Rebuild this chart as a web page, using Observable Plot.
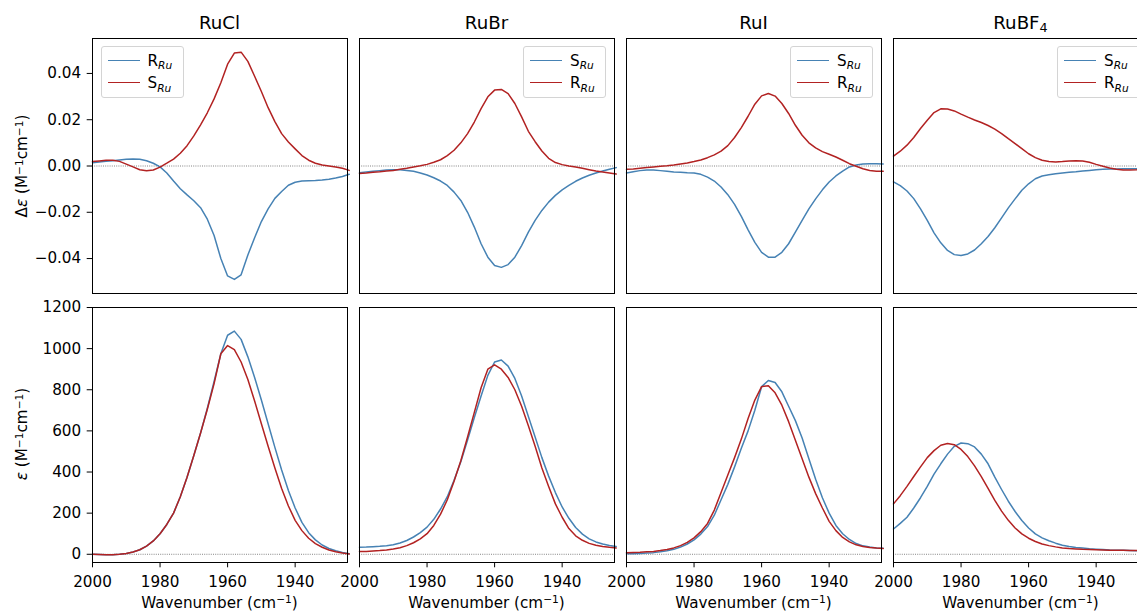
<!DOCTYPE html>
<html><head><meta charset="utf-8">
<script src="https://cdn.jsdelivr.net/npm/d3@7"></script>
<script src="https://cdn.jsdelivr.net/npm/@observablehq/plot@0.6"></script>
<style>
body{margin:0;background:#fff;font-family:"DejaVu Sans",sans-serif;}
#fig{position:relative;width:1137px;height:611px;overflow:hidden;background:#fff;color:#000;}
#fig svg{position:absolute;overflow:visible;}
.t{position:absolute;white-space:nowrap;line-height:1;}
.title{font-size:18.2px;transform:translateX(-50%);}
.xl{font-size:15.2px;transform:translateX(-50%);}
.yl{font-size:15.2px;transform:translate(-50%,-50%) rotate(-90deg);}
sup{font-size:70%;vertical-align:0.45em;line-height:0;}
.title sub{font-size:70%;vertical-align:-0.25em;line-height:0;}
.leg{position:absolute;border:1px solid #d4d4d4;border-radius:3px;background:rgba(255,255,255,0.8);box-sizing:border-box;width:83px;height:52px;}
.leg .row{position:absolute;left:0;height:20px;font-size:15.2px;}
.leg .sw{position:absolute;left:6px;top:9px;width:32px;height:0;border-top:1.5px solid;}
.leg .lb{position:absolute;left:46px;top:1px;white-space:nowrap;}
.leg .lb i{font-size:70%;position:relative;top:0.3em;}
</style>
</head><body><div id="fig"></div>
<script>
// wavenumber grid (cm^-1)
const wavenumber = [2000,1998,1996,1994,1992,1990,1988,1986,1984,1982,1980,1978,1976,1974,1972,1970,1968,1966,1964,1962,1960,1958,1956,1954,1952,1950,1948,1946,1944,1942,1940,1938,1936,1934,1932,1930,1928,1926,1924];
const complexes = ["RuCl","RuBr","RuI","RuBF4"];
const titlesHtml = ["RuCl","RuBr","RuI","RuBF<sub>4</sub>"];
const blueLabels = ["R","S","S","S"];
const redLabels = ["S","R","R","R"];

// Δε (M^-1 cm^-1)
const dEps_RuCl_blue = [0.0014,0.0017,0.0020,0.0023,0.0026,0.0029,0.0030,0.0029,0.0023,0.0012,-0.0004,-0.0030,-0.0065,-0.0098,-0.0125,-0.0150,-0.0180,-0.0230,-0.0300,-0.0400,-0.0475,-0.0490,-0.0470,-0.0385,-0.0310,-0.0240,-0.0185,-0.0140,-0.0110,-0.0083,-0.0070,-0.0065,-0.0064,-0.0063,-0.0061,-0.0057,-0.0052,-0.0045,-0.0036];
const dEps_RuCl_red = [0.0019,0.0022,0.0025,0.0025,0.0020,0.0008,-0.0004,-0.0016,-0.0021,-0.0017,-0.0005,0.0012,0.0030,0.0055,0.0088,0.0130,0.0178,0.0230,0.0290,0.0360,0.0440,0.0488,0.0492,0.0452,0.0388,0.0322,0.0252,0.0192,0.0140,0.0104,0.0074,0.0045,0.0025,0.0012,0.0004,0.0000,-0.0004,-0.0010,-0.0019];
const dEps_RuBr_blue = [-0.0029,-0.0026,-0.0023,-0.0020,-0.0017,-0.0016,-0.0016,-0.0019,-0.0023,-0.0030,-0.0039,-0.0051,-0.0065,-0.0084,-0.0113,-0.0149,-0.0200,-0.0264,-0.0336,-0.0394,-0.0430,-0.0438,-0.0426,-0.0394,-0.0344,-0.0286,-0.0235,-0.0192,-0.0156,-0.0127,-0.0103,-0.0084,-0.0066,-0.0052,-0.0040,-0.0030,-0.0022,-0.0014,-0.0007];
const dEps_RuBr_red = [-0.0032,-0.0030,-0.0027,-0.0025,-0.0022,-0.0019,-0.0014,-0.0010,-0.0004,0.0001,0.0007,0.0016,0.0027,0.0045,0.0068,0.0100,0.0140,0.0190,0.0248,0.0299,0.0328,0.0331,0.0313,0.0270,0.0212,0.0150,0.0105,0.0065,0.0033,0.0015,0.0006,0.0000,-0.0004,-0.0010,-0.0016,-0.0022,-0.0026,-0.0030,-0.0035];
const dEps_RuI_blue = [-0.0030,-0.0025,-0.0020,-0.0017,-0.0017,-0.0020,-0.0023,-0.0026,-0.0027,-0.0029,-0.0030,-0.0036,-0.0048,-0.0065,-0.0091,-0.0124,-0.0166,-0.0218,-0.0276,-0.0330,-0.0373,-0.0394,-0.0394,-0.0373,-0.0336,-0.0286,-0.0235,-0.0185,-0.0142,-0.0103,-0.0069,-0.0043,-0.0022,-0.0004,0.0004,0.0009,0.0010,0.0010,0.0009];
const dEps_RuI_red = [-0.0014,-0.0013,-0.0010,-0.0007,-0.0004,-0.0001,0.0001,0.0004,0.0009,0.0013,0.0019,0.0026,0.0036,0.0048,0.0064,0.0088,0.0123,0.0166,0.0215,0.0267,0.0303,0.0313,0.0302,0.0270,0.0227,0.0176,0.0133,0.0100,0.0078,0.0062,0.0051,0.0039,0.0025,0.0010,-0.0001,-0.0012,-0.0019,-0.0023,-0.0023];
const dEps_RuBF4_blue = [-0.0069,-0.0085,-0.0108,-0.0141,-0.0185,-0.0235,-0.0289,-0.0332,-0.0365,-0.0383,-0.0387,-0.0380,-0.0363,-0.0336,-0.0305,-0.0267,-0.0224,-0.0181,-0.0142,-0.0105,-0.0077,-0.0055,-0.0043,-0.0038,-0.0033,-0.0030,-0.0027,-0.0025,-0.0022,-0.0019,-0.0016,-0.0014,-0.0013,-0.0013,-0.0012,-0.0012,-0.0012,-0.0012,-0.0012];
const dEps_RuBF4_red = [0.0043,0.0064,0.0090,0.0123,0.0162,0.0198,0.0231,0.0247,0.0246,0.0238,0.0224,0.0211,0.0199,0.0188,0.0175,0.0159,0.0140,0.0118,0.0097,0.0075,0.0053,0.0036,0.0025,0.0019,0.0017,0.0019,0.0022,0.0023,0.0022,0.0016,0.0007,-0.0001,-0.0009,-0.0014,-0.0017,-0.0017,-0.0016,-0.0014,-0.0013];

// ε (M^-1 cm^-1)
const eps_RuCl_blue = [0,-1,-2,-2,0,4,11,22,40,65,100,145,200,280,375,480,590,710,840,975,1065,1085,1045,960,860,750,635,520,410,310,225,155,105,70,45,28,17,9,3];
const eps_RuCl_red = [0,-1,-2,-2,0,4,11,22,40,65,100,145,200,280,375,480,590,705,830,975,1015,995,935,850,745,635,525,420,320,235,165,115,78,52,34,21,12,6,1];
const eps_RuBr_blue = [34,35,37,39,42,46,55,67,84,105,132,170,220,280,360,450,555,665,770,870,935,945,915,855,770,670,570,470,380,300,230,175,130,98,75,60,50,43,38];
const eps_RuBr_red = [13,14,16,18,21,26,32,42,56,75,100,140,195,265,355,455,570,690,810,900,921,900,860,800,720,625,525,420,330,245,180,125,90,68,53,44,38,34,31];
const eps_RuI_blue = [2,3,4,6,8,12,17,24,35,50,70,98,135,190,265,340,425,515,600,700,815,845,835,790,720,650,565,465,365,275,200,140,100,72,52,41,35,31,29];
const eps_RuI_red = [8,9,10,12,14,18,23,31,42,58,80,110,150,215,300,385,470,560,660,750,815,820,785,725,645,555,465,375,295,225,160,115,82,60,46,38,33,30,28];
const eps_RuBF4_blue = [123,150,180,225,275,330,390,440,487,525,541,538,522,487,440,375,315,258,208,164,128,99,80,66,54,44,38,33,30,27,25,23,21,20,19,18,17,16,15];
const eps_RuBF4_red = [245,285,330,378,425,470,504,530,539,533,510,475,430,378,320,262,210,165,128,99,78,62,50,42,36,31,28,26,24,23,22,21,20,19,19,18,18,17,17];

const dEpsTicks = [-0.04,-0.02,0,0.02,0.04];
const epsTicks = [0,200,400,600,800,1000,1200];
const xTicks = [2000,1980,1960,1940];

const BLUE = "#4682b4", RED = "#b22222";
const seriesTop = [[dEps_RuCl_blue,dEps_RuCl_red],[dEps_RuBr_blue,dEps_RuBr_red],[dEps_RuI_blue,dEps_RuI_red],[dEps_RuBF4_blue,dEps_RuBF4_red]];
const seriesBot = [[eps_RuCl_blue,eps_RuCl_red],[eps_RuBr_blue,eps_RuBr_red],[eps_RuI_blue,eps_RuI_red],[eps_RuBF4_blue,eps_RuBF4_red]];

const fig = document.getElementById("fig");
const colLeft = [92, 359, 626, 893];
const rowTop = [38, 306.5];
const W = 255, H = 255;

function toRows(arr){ return wavenumber.map((w,i)=>({w, v: arr[i]})); }

function panel(row, col){
  const first = col === 0, bottom = row === 1;
  const mL = first ? 80 : 2, mR = 2, mT = 2, mB = bottom ? 32 : 2;
  const [b, r] = (row === 0 ? seriesTop : seriesBot)[col];
  const svg = Plot.plot({
    width: W + mL + mR, height: H + mT + mB,
    marginLeft: mL, marginRight: mR, marginTop: mT, marginBottom: mB,
    style: {fontFamily: "DejaVu Sans", fontSize: "15.2px", color: "#000", background: "transparent", overflow: "visible"},
    x: {domain: [2000, 1924.5], axis: bottom ? "bottom" : null, ticks: xTicks, tickFormat: d => String(d), tickSize: 5.3, tickPadding: 8, label: null},
    y: row === 0
      ? {domain: [-0.0551, 0.0551], axis: first ? "left" : null, ticks: dEpsTicks, tickFormat: d3.format(".2f"), tickSize: 5.3, tickPadding: 6, label: null}
      : {domain: [-40, 1200], axis: first ? "left" : null, ticks: epsTicks, tickFormat: d3.format("d"), tickSize: 5.3, tickPadding: 6, label: null},
    marks: [
      Plot.ruleY([0], {stroke: "#777", strokeWidth: 0.9, strokeDasharray: "1,1.2"}),
      Plot.line(toRows(b), {x: "w", y: "v", stroke: BLUE, strokeWidth: 1.5}),
      Plot.line(toRows(r), {x: "w", y: "v", stroke: RED, strokeWidth: 1.5}),
      Plot.frame({stroke: "#000", strokeWidth: 1})
    ]
  });
  svg.style.left = (colLeft[col] - mL) + "px";
  svg.style.top = (rowTop[row] - mT) + "px";
  fig.appendChild(svg);
}

for (let row = 0; row < 2; row++) for (let col = 0; col < 4; col++) panel(row, col);

function addText(cls, html, x, y){
  const d = document.createElement("div");
  d.className = "t " + cls; d.innerHTML = html;
  d.style.left = x + "px"; d.style.top = y + "px";
  fig.appendChild(d);
}
for (let c = 0; c < 4; c++){
  const cx = colLeft[c] + W/2;
  addText("title", titlesHtml[c], cx, 13.6);
  addText("xl", "Wavenumber (cm<sup>−1</sup>)", cx, 595.5);
  const lg = document.createElement("div");
  lg.className = "leg";
  if (c === 0) lg.style.left = (colLeft[c] + 8.5) + "px";
  else lg.style.left = (colLeft[c] + W - 8 - 83) + "px";
  lg.style.top = (rowTop[0] + 8) + "px";
  const items = [[BLUE, blueLabels[c]], [RED, redLabels[c]]];
  items.forEach(([col, lab], i) => {
    const rw = document.createElement("div");
    rw.className = "row"; rw.style.top = (4 + i*22.4) + "px";
    rw.innerHTML = `<div class="sw" style="border-color:${col}"></div><div class="lb">${lab}<i>Ru</i></div>`;
    lg.appendChild(rw);
  });
  fig.appendChild(lg);
}
addText("yl", "Δ<i>ε</i> (M<sup>−1</sup>cm<sup>−1</sup>)", 23, rowTop[0] + H/2);
addText("yl", "<i>ε</i> (M<sup>−1</sup>cm<sup>−1</sup>)", 23, rowTop[1] + H/2);
</script>
</body></html>
